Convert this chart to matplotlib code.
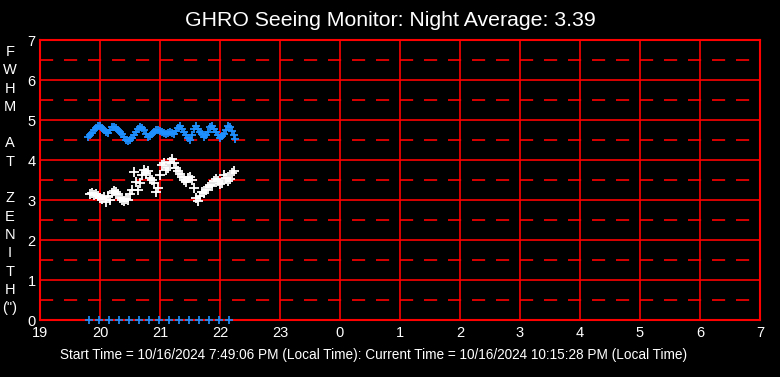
import matplotlib
matplotlib.use("Agg")
import matplotlib.pyplot as plt

plt.rcParams['font.family'] = ['Liberation Sans', 'DejaVu Sans']

title = "GHRO Seeing Monitor: Night Average: 3.39"
footer = "Start Time = 10/16/2024 7:49:06 PM (Local Time): Current Time = 10/16/2024 10:15:28 PM (Local Time)"
ylabel_chars = ["F", "W", "H", "M", "", "A", "T", "", "Z", "E", "N", "I", "T", "H", "(\")"]

# minutes after 19:00, every 2 minutes
blue_min = [48, 50, 52, 54, 56, 58, 60, 62, 64, 66, 68, 70, 72, 74, 76, 78, 80, 82, 84, 86,
            88, 90, 92, 94, 96, 98, 100, 102, 104, 106, 108, 110, 112, 114, 116, 118, 120,
            122, 124, 126, 128, 130, 132, 134, 136, 138, 140, 142, 144, 146, 148, 150, 152,
            154, 156, 158, 160, 162, 164, 166, 168, 170, 172, 174, 176, 178, 180, 182, 184,
            186, 188, 190, 192, 194, 195]
blue_fwhm = [4.58, 4.62, 4.68, 4.74, 4.80, 4.86, 4.85, 4.80, 4.74, 4.70, 4.68, 4.74, 4.82,
             4.83, 4.80, 4.76, 4.70, 4.64, 4.57, 4.51, 4.48, 4.50, 4.55, 4.62, 4.70, 4.77,
             4.83, 4.80, 4.74, 4.66, 4.58, 4.61, 4.66, 4.70, 4.74, 4.75, 4.72, 4.70, 4.68,
             4.66, 4.68, 4.70, 4.68, 4.65, 4.72, 4.80, 4.85, 4.78, 4.70, 4.62, 4.55, 4.50,
             4.62, 4.78, 4.86, 4.78, 4.70, 4.64, 4.58, 4.62, 4.70, 4.82, 4.86, 4.78, 4.70,
             4.62, 4.56, 4.60, 4.66, 4.76, 4.86, 4.82, 4.72, 4.62, 4.52]

white_min = [50, 52, 54, 56, 58, 60, 62, 64, 66, 68, 70, 72, 74, 76, 78, 80, 82, 84, 86, 88,
             90, 92, 94, 96, 98, 100, 102, 104, 106, 108, 110, 112, 114, 116, 118, 120, 122,
             124, 126, 128, 130, 132, 134, 136, 138, 140, 142, 144, 146, 148, 150, 152, 154,
             156, 158, 160, 162, 164, 166, 168, 170, 172, 174, 176, 178, 180, 182, 184, 186,
             188, 190, 192, 194]
white_fwhm = [3.15, 3.18, 3.12, 3.15, 3.10, 3.05, 3.02, 3.08, 2.95, 3.10, 3.00, 3.18, 3.22,
              3.20, 3.15, 3.05, 3.00, 2.98, 3.02, 3.00, 3.15, 3.25, 3.70, 3.45, 3.25, 3.42,
              3.62, 3.75, 3.68, 3.72, 3.55, 3.50, 3.42, 3.20, 3.30, 3.62, 3.88, 3.92, 3.75,
              3.80, 3.95, 4.02, 3.92, 3.80, 3.72, 3.65, 3.58, 3.50, 3.45, 3.55, 3.58, 3.50,
              3.30, 3.05, 2.98, 3.10, 3.20, 3.18, 3.25, 3.32, 3.38, 3.35, 3.48, 3.52, 3.48,
              3.40, 3.42, 3.62, 3.55, 3.48, 3.52, 3.68, 3.72]

marker_min = [49, 59, 69, 79, 89, 99, 109, 119, 129, 139, 149, 159, 169, 179, 189]
marker_val = [0] * len(marker_min)

hours = [19, 20, 21, 22, 23, 24, 25, 26, 27, 28, 29, 30, 31]
hour_labels = ["19", "20", "21", "22", "23", "0", "1", "2", "3", "4", "5", "6", "7"]
y_ticks = [0, 1, 2, 3, 4, 5, 6, 7]
y_half = [0.5, 1.5, 2.5, 3.5, 4.5, 5.5, 6.5]

W, H = 780, 377
fig = plt.figure(figsize=(W / 100, H / 100), dpi=100, facecolor='black')
ax = fig.add_axes([40 / W, (H - 320) / H, 720 / W, 280 / H], facecolor='black')
ax.set_xlim(19, 31)
ax.set_ylim(0, 7)

red = '#ff0000'
for y in y_ticks[1:-1]:
    ax.axhline(y, color=red, lw=1.2, zorder=1)
for y in y_half:
    ax.axhline(y, color=red, lw=1.2, zorder=1, dashes=(7.9, 6.5))
for h in hours[1:-1]:
    ax.axvline(h, color=red, lw=1.2, zorder=1)
for s in ax.spines.values():
    s.set_color(red)
    s.set_linewidth(1.5)

bx = [19 + m / 60 for m in blue_min]
wx = [19 + m / 60 for m in white_min]
mx = [19 + m / 60 for m in marker_min]
ax.plot(bx, blue_fwhm, ls='none', marker='+', ms=6, mew=1.3, color='#1e90ff', zorder=3)
ax.plot(wx, white_fwhm, ls='none', marker='+', ms=6.5, mew=1.3, color='white', zorder=3)
ax.plot(mx, marker_val, ls='none', marker='+', ms=6, mew=1.2, color='#1e90ff', zorder=3,
        clip_on=False)

ax.set_xticks(hours)
ax.set_xticklabels(hour_labels)
ax.set_yticks(y_ticks)
ax.tick_params(colors='white', length=0, labelsize=10.5)
ax.tick_params(axis='x', pad=4)
ax.tick_params(axis='y', pad=3)

fig.text(0.5, (H - 20) / H, title, color='white', fontsize=15.3, ha='center', va='center')
fig.text(374 / W, (H - 355) / H, footer, color='white', fontsize=9.8, ha='center', va='center')

y0, step = 52, 18.3
for i, ch in enumerate(ylabel_chars):
    if ch:
        fig.text(10 / W, (H - (y0 + i * step)) / H, ch, color='white', fontsize=10.5,
                 ha='center', va='center')

fig.savefig('out.png', dpi=100, facecolor='black')
